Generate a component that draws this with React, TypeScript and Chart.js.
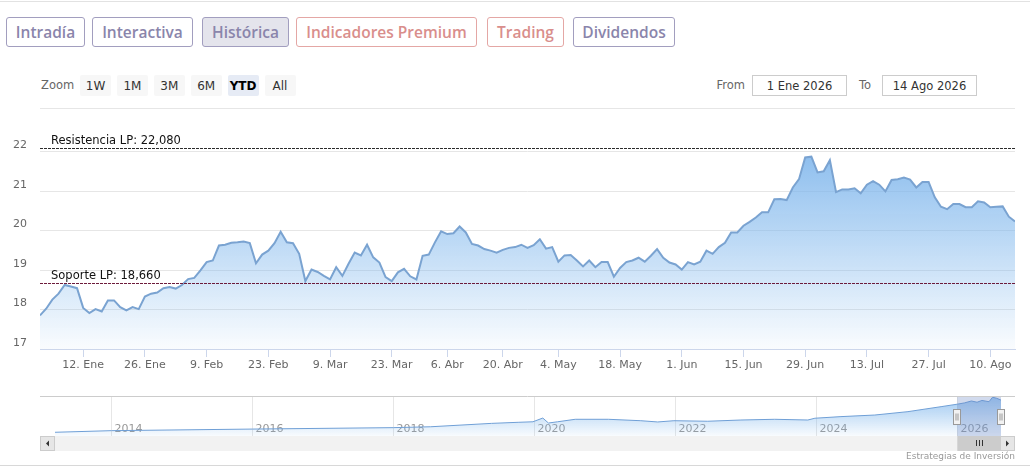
import React, { useEffect, useRef } from "react";
import { Chart, registerables } from "chart.js";

Chart.register(...registerables);

// ---------- DATA ----------
const startDate = "2026-01-01";
const endDate = "2026-08-14";
const marketHolidays = ["2026-04-03", "2026-04-06", "2026-05-01"];

const prices = [
  17.85, 18.02, 18.25, 18.4, 18.62, 18.58, 18.54, 18.04, 17.91, 18.01,
  17.95, 18.23, 18.23, 18.06, 17.98, 18.06, 18.01, 18.33, 18.4, 18.43,
  18.54, 18.57, 18.53, 18.62, 18.77, 18.8, 18.99, 19.2, 19.24, 19.62,
  19.64, 19.69, 19.7, 19.72, 19.68, 19.17, 19.39, 19.49, 19.68, 19.97,
  19.7,
  19.68, 19.41, 18.72, 19.01, 18.95, 18.85, 18.76, 19.07, 18.85, 19.16,
  19.44, 19.37, 19.64, 19.32, 19.19, 18.82, 18.72, 18.94, 19.03, 18.84,
  18.76, 19.36, 19.39, 19.7, 19.98, 19.91, 19.93, 20.1, 19.95, 19.66,
  19.62, 19.53, 19.49, 19.44, 19.51, 19.56, 19.58, 19.64, 19.56, 19.63,
  19.78, 19.54, 19.58, 19.21, 19.37, 19.38, 19.24, 19.09, 19.24, 19.07,
  19.2, 19.2, 18.83, 19.05, 19.2, 19.24, 19.31, 19.21, 19.36, 19.53,
  19.31, 19.19, 19.14, 19.01, 19.2, 19.14, 19.21, 19.49, 19.41, 19.58,
  19.69, 19.95, 19.95, 20.12, 20.22, 20.33, 20.46, 20.46, 20.79,
  20.8, 20.77, 21.09, 21.3, 21.85, 21.87, 21.47, 21.5, 21.78, 20.97,
  21.04, 21.04, 21.07, 20.94, 21.16, 21.25, 21.16, 20.99, 21.28, 21.3,
  21.34, 21.29, 21.09, 21.23, 21.23, 20.84, 20.6, 20.54, 20.67, 20.67,
  20.59, 20.59, 20.74, 20.71, 20.59, 20.6, 20.61, 20.35, 20.23,
];

const tickDates = [
  "2026-01-12", "2026-01-26", "2026-02-09", "2026-02-23", "2026-03-09",
  "2026-03-23", "2026-04-06", "2026-04-20", "2026-05-04", "2026-05-18",
  "2026-06-01", "2026-06-15", "2026-06-29", "2026-07-13", "2026-07-27",
  "2026-08-10",
];
const monthAbbr = ["Ene", "Feb", "Mar", "Abr", "May", "Jun", "Jul", "Ago", "Sep", "Oct", "Nov", "Dic"];

const yMin = 17;
const yMax = 23;
const resistanceLevel = 22.08;
const supportLevel = 18.66;
const resistanceLabel = "Resistencia LP: 22,080";
const supportLabel = "Soporte LP: 18,660";

// navigator (long history)
const navYears = [
  2013.2, 2014.0, 2016.0, 2018.0, 2018.53, 2019.39, 2019.77, 2019.98, 2020.12, 2020.2,
  2020.33, 2020.58, 2021.05, 2021.51, 2021.75, 2021.98, 2022.46, 2022.93, 2023.41, 2023.88,
  2023.98, 2024.35, 2024.83, 2025.3, 2025.77, 2026.0, 2026.1, 2026.2, 2026.28, 2026.35,
  2026.45, 2026.5, 2026.56, 2026.62,
];
const navValues = [
  2.1, 3.0, 3.9, 4.7, 5.2, 7.1, 7.7, 8.0, 10.1, 7.3,
  8.0, 9.4, 9.4, 8.6, 7.9, 8.6, 8.3, 9.0, 9.4, 9.0,
  10.0, 10.9, 11.8, 13.7, 16.5, 17.9, 18.6, 19.7, 19.0, 20.0,
  19.3, 21.8, 21.2, 20.2,
];
const navYearTicks = [2014, 2016, 2018, 2020, 2022, 2024, 2026];
const navMinYear = 2013.2;
const navMaxYear = 2026.62;
const navRangeStart = 2026.0;
const navValueMin = 0;
const navValueMax = 22.5;

const tabs = [
  { label: "Intradía", tone: "violet", active: false },
  { label: "Interactiva", tone: "violet", active: false },
  { label: "Histórica", tone: "violet", active: true },
  { label: "Indicadores Premium", tone: "red", active: false },
  { label: "Trading", tone: "red", active: false },
  { label: "Dividendos", tone: "violet", active: false },
];
const zoomButtons = ["1W", "1M", "3M", "6M", "YTD", "All"];
const selectedZoom = "YTD";
const fromText = "1 Ene 2026";
const toText = "14 Ago 2026";
const creditText = "Estrategias de Inversión";

// ---------- LAYOUT ----------
const tabLefts = [6, 92, 202, 296, 487, 573];
const tabWidths = [79, 101, 87, 181, 77, 102];
const FONT = '"DejaVu Sans", Verdana, sans-serif';

function tradingDays(start: string, end: string, holidays: string[]) {
  const out: string[] = [];
  const d = new Date(start + "T00:00:00Z");
  const e = new Date(end + "T00:00:00Z");
  while (d <= e) {
    const dow = d.getUTCDay();
    const iso = d.toISOString().slice(0, 10);
    if (dow !== 0 && dow !== 6 && !holidays.includes(iso)) out.push(iso);
    d.setUTCDate(d.getUTCDate() + 1);
  }
  return out;
}

function buildTicks() {
  const days = tradingDays(startDate, endDate, marketHolidays);
  const map: Record<number, string> = {};
  const idx: number[] = [];
  tickDates.forEach((td) => {
    const i = days.findIndex((d) => d >= td);
    if (i >= 0 && i < prices.length) {
      const [, m, dd] = td.split("-");
      map[i] = `${parseInt(dd, 10)}. ${monthAbbr[parseInt(m, 10) - 1]}`;
      idx.push(i);
    }
  });
  return { map, idx };
}

const levelsPlugin = {
  id: "levels",
  afterDatasetsDraw(chart: any) {
    const { ctx, chartArea, scales } = chart;
    const y = scales.y;
    const lines = [
      { v: resistanceLevel, label: resistanceLabel, color: "#2b2b2b" },
      { v: supportLevel, label: supportLabel, color: "#6d1b3b" },
    ];
    ctx.save();
    for (const l of lines) {
      const py = Math.round(y.getPixelForValue(l.v)) + 0.5;
      ctx.beginPath();
      ctx.setLineDash([3, 1]);
      ctx.lineWidth = 1;
      ctx.strokeStyle = l.color;
      ctx.moveTo(chartArea.left, py);
      ctx.lineTo(chartArea.right, py);
      ctx.stroke();
      ctx.setLineDash([]);
      ctx.fillStyle = "#111";
      ctx.font = `11.5px ${FONT}`;
      ctx.textBaseline = "alphabetic";
      ctx.textAlign = "left";
      ctx.fillText(l.label, chartArea.left + 11, py - 5);
    }
    ctx.restore();
  },
};

const navigatorPlugin = {
  id: "navigatorDeco",
  beforeDatasetsDraw(chart: any) {
    const { ctx, chartArea, scales } = chart;
    const x = scales.x;
    ctx.save();
    ctx.strokeStyle = "#e6e6e6";
    ctx.lineWidth = 1;
    ctx.font = `11px ${FONT}`;
    ctx.fillStyle = "#999";
    ctx.textBaseline = "alphabetic";
    ctx.textAlign = "left";
    for (const yr of navYearTicks) {
      const px = Math.round(x.getPixelForValue(yr)) + 0.5;
      ctx.beginPath();
      ctx.moveTo(px, chartArea.top);
      ctx.lineTo(px, chartArea.bottom + 4);
      ctx.stroke();
      ctx.fillText(String(yr), px + 3, chartArea.bottom - 4);
    }
    ctx.restore();
  },
  afterDatasetsDraw(chart: any) {
    const { ctx, chartArea, scales } = chart;
    const x = scales.x;
    const outerLeft = 40;
    const outerRight = 1015;
    const x0 = x.getPixelForValue(navRangeStart);
    const x1 = x.getPixelForValue(navMaxYear);
    ctx.save();
    ctx.fillStyle = "rgba(102,133,194,0.3)";
    ctx.fillRect(x0, chartArea.top, x1 - x0, chartArea.bottom - chartArea.top);
    ctx.strokeStyle = "#cccccc";
    ctx.lineWidth = 1;
    ctx.beginPath();
    ctx.moveTo(outerLeft, chartArea.top + 0.5);
    ctx.lineTo(outerRight, chartArea.top + 0.5);
    ctx.stroke();
    const sTop = chartArea.bottom;
    const sH = 15;
    ctx.fillStyle = "#f2f2f2";
    ctx.fillRect(outerLeft, sTop, outerRight - outerLeft, sH);
    ctx.fillStyle = "#cccccc";
    ctx.fillRect(x0, sTop, x1 - x0, sH);
    const cx = Math.round((x0 + x1) / 2);
    ctx.strokeStyle = "#333";
    ctx.beginPath();
    for (const dx of [-3, 0, 3]) {
      ctx.moveTo(cx + dx + 0.5, sTop + 4);
      ctx.lineTo(cx + dx + 0.5, sTop + 10);
    }
    ctx.stroke();
    const drawBtn = (bx: number, dir: number) => {
      ctx.fillStyle = "#e6e6e6";
      ctx.fillRect(bx, sTop, sH, sH);
      ctx.strokeStyle = "#cccccc";
      ctx.strokeRect(bx + 0.5, sTop + 0.5, sH - 1, sH - 1);
      ctx.fillStyle = "#333";
      ctx.beginPath();
      const mx = bx + sH / 2;
      const my = sTop + sH / 2;
      ctx.moveTo(mx - 1.5 * dir, my);
      ctx.lineTo(mx + 1.5 * dir, my - 3);
      ctx.lineTo(mx + 1.5 * dir, my + 3);
      ctx.closePath();
      ctx.fill();
    };
    drawBtn(outerLeft, 1);
    drawBtn(outerRight - sH, -1);
    const hy = (chartArea.top + chartArea.bottom) / 2;
    for (const hx of [x0, x1]) {
      const rx = Math.round(hx - 4) + 0.5;
      const ry = Math.round(hy - 7.5) + 0.5;
      ctx.fillStyle = "#f2f2f2";
      ctx.fillRect(rx, ry, 7, 15);
      ctx.strokeStyle = "#999999";
      ctx.strokeRect(rx, ry, 7, 15);
      ctx.beginPath();
      ctx.moveTo(rx + 2.5, ry + 4);
      ctx.lineTo(rx + 2.5, ry + 11);
      ctx.moveTo(rx + 4.5, ry + 4);
      ctx.lineTo(rx + 4.5, ry + 11);
      ctx.stroke();
    }
    ctx.restore();
  },
};

function mainGradient(ctx: any) {
  const chart = ctx.chart;
  const area = chart.chartArea;
  if (!area) return "rgba(124,181,236,0.4)";
  const g = chart.ctx.createLinearGradient(0, area.top, 0, area.bottom);
  g.addColorStop(0, "rgba(118,176,234,1)");
  g.addColorStop(0.5, "rgba(124,181,236,0.55)");
  g.addColorStop(1, "rgba(124,181,236,0.04)");
  return g;
}

function navGradient(ctx: any) {
  const chart = ctx.chart;
  const area = chart.chartArea;
  if (!area) return "rgba(124,181,236,0.3)";
  const g = chart.ctx.createLinearGradient(0, area.top, 0, area.bottom);
  g.addColorStop(0, "rgba(124,181,236,0.75)");
  g.addColorStop(1, "rgba(124,181,236,0.05)");
  return g;
}

export default function App() {
  const mainRef = useRef<HTMLCanvasElement>(null);
  const navRef = useRef<HTMLCanvasElement>(null);

  useEffect(() => {
    const { map, idx } = buildTicks();
    const main = new Chart(mainRef.current as HTMLCanvasElement, {
      type: "line",
      data: {
        datasets: [
          {
            data: prices.map((v, i) => ({ x: i, y: v })),
            borderColor: "#7aa3d1",
            borderWidth: 2,
            pointRadius: 0,
            tension: 0,
            fill: "start",
            backgroundColor: mainGradient,
          },
        ],
      },
      options: {
        animation: false,
        responsive: false,
        maintainAspectRatio: false,
        layout: { padding: { top: 12, right: 15, left: 0, bottom: 0 } },
        plugins: { legend: { display: false }, tooltip: { enabled: false } },
        scales: {
          x: {
            type: "linear",
            min: 0,
            max: prices.length - 1,
            afterBuildTicks: (s: any) => {
              s.ticks = idx.map((v) => ({ value: v }));
            },
            afterFit: (s: any) => {
              s.height = 31;
            },
            ticks: {
              autoSkip: false,
              maxRotation: 0,
              padding: 2,
              color: "#666",
              font: { family: "DejaVu Sans", size: 11 },
              callback: (v: any) => map[v] ?? "",
            },
            grid: { drawOnChartArea: false, drawTicks: true, tickLength: 8, color: "#ccd6eb" },
            border: { color: "#ccd6eb" },
          },
          y: {
            min: yMin,
            max: yMax,
            afterFit: (s: any) => {
              s.width = 40;
            },
            ticks: {
              stepSize: 1,
              padding: 0,
              labelOffset: -6,
              color: "#666",
              font: { family: "DejaVu Sans", size: 11 },
              callback: (v: any) => (v === yMax ? "" : String(v)),
            },
            grid: {
              drawTicks: true,
              tickLength: 13,
              tickColor: "rgba(0,0,0,0)",
              color: (c: any) => (c.tick && c.tick.value === yMax ? "rgba(0,0,0,0)" : "#e6e6e6"),
            },
            border: { display: false },
          },
        },
      } as any,
      plugins: [levelsPlugin],
    });

    const nav = new Chart(navRef.current as HTMLCanvasElement, {
      type: "line",
      data: {
        datasets: [
          {
            data: navYears.map((yr, i) => ({ x: yr, y: navValues[i] })),
            borderColor: "#6f9fd6",
            borderWidth: 1,
            pointRadius: 0,
            tension: 0,
            fill: "start",
            backgroundColor: navGradient,
          },
        ],
      },
      options: {
        animation: false,
        responsive: false,
        maintainAspectRatio: false,
        layout: { padding: { top: 6, right: 29, left: 55, bottom: 20 } },
        plugins: { legend: { display: false }, tooltip: { enabled: false } },
        scales: {
          x: { type: "linear", min: navMinYear, max: navMaxYear, display: false },
          y: { min: navValueMin, max: navValueMax, display: false },
        },
      } as any,
      plugins: [navigatorPlugin],
    });

    return () => {
      main.destroy();
      nav.destroy();
    };
  }, []);

  const violet = { text: "#8a85ab", border: "#a29ebf" };
  const red = { text: "#d98e8c", border: "#e4a7a5" };

  return (
    <div
      style={{
        position: "fixed",
        left: 0,
        top: 0,
        width: 1030,
        height: 469,
        background: "#fff",
        overflow: "hidden",
        fontFamily: FONT,
      }}
    >
      <div style={{ position: "absolute", left: 0, top: 1, width: 1030, height: 1, background: "#e2e2e2" }} />
      {tabs.map((t, i) => {
        const c = t.tone === "red" ? red : violet;
        return (
          <div
            key={t.label}
            style={{
              position: "absolute",
              left: tabLefts[i],
              top: 17,
              width: tabWidths[i],
              height: 30,
              boxSizing: "border-box",
              border: `1px solid ${c.border}`,
              borderRadius: 3,
              background: t.active ? "#e4e4ec" : "#fff",
              color: c.text,
              display: "flex",
              alignItems: "center",
              justifyContent: "center",
              fontFamily: '"Open Sans", "Noto Sans", sans-serif',
              fontWeight: 600,
              fontSize: 15.5,
              whiteSpace: "nowrap",
            }}
          >
            {t.label}
          </div>
        );
      })}

      <div style={{ position: "absolute", left: 41, top: 78, fontSize: 11.5, color: "#666" }}>Zoom</div>
      {zoomButtons.map((b, i) => {
        const sel = b === selectedZoom;
        return (
          <div
            key={b}
            style={{
              position: "absolute",
              left: 80 + i * 36.9,
              top: 75,
              width: 31,
              height: 21,
              borderRadius: 2,
              background: sel ? "#e6ebf5" : "#f7f7f7",
              color: sel ? "#000" : "#333",
              fontWeight: sel ? 700 : 400,
              fontSize: 12,
              display: "flex",
              alignItems: "center",
              justifyContent: "center",
            }}
          >
            {b}
          </div>
        );
      })}

      <div style={{ position: "absolute", left: 700, width: 45, top: 78, textAlign: "right", fontSize: 11.5, color: "#666" }}>From</div>
      <div
        style={{
          position: "absolute",
          left: 752,
          top: 75,
          width: 95,
          height: 21,
          boxSizing: "border-box",
          border: "1px solid #cccccc",
          display: "flex",
          alignItems: "center",
          justifyContent: "center",
          fontSize: 11.5,
          color: "#333",
        }}
      >
        {fromText}
      </div>
      <div style={{ position: "absolute", left: 859, top: 78, fontSize: 11.5, color: "#666" }}>To</div>
      <div
        style={{
          position: "absolute",
          left: 882,
          top: 75,
          width: 95,
          height: 21,
          boxSizing: "border-box",
          border: "1px solid #cccccc",
          display: "flex",
          alignItems: "center",
          justifyContent: "center",
          fontSize: 11.5,
          color: "#333",
        }}
      >
        {toText}
      </div>

      <div style={{ position: "absolute", left: 40, top: 108, width: 975, height: 1, background: "#e6e6e6" }} />

      <canvas
        ref={mainRef}
        width={1030}
        height={280}
        style={{ position: "absolute", left: 0, top: 100, width: 1030, height: 280 }}
      />
      <canvas
        ref={navRef}
        width={1030}
        height={66}
        style={{ position: "absolute", left: 0, top: 390, width: 1030, height: 66 }}
      />

      <div
        style={{
          position: "absolute",
          right: 15,
          top: 451,
          fontSize: 9,
          color: "#999",
          whiteSpace: "nowrap",
        }}
      >
        {creditText}
      </div>
      <div style={{ position: "absolute", left: 0, top: 465, width: 1030, height: 1, background: "#d8d8d8" }} />
    </div>
  );
}
